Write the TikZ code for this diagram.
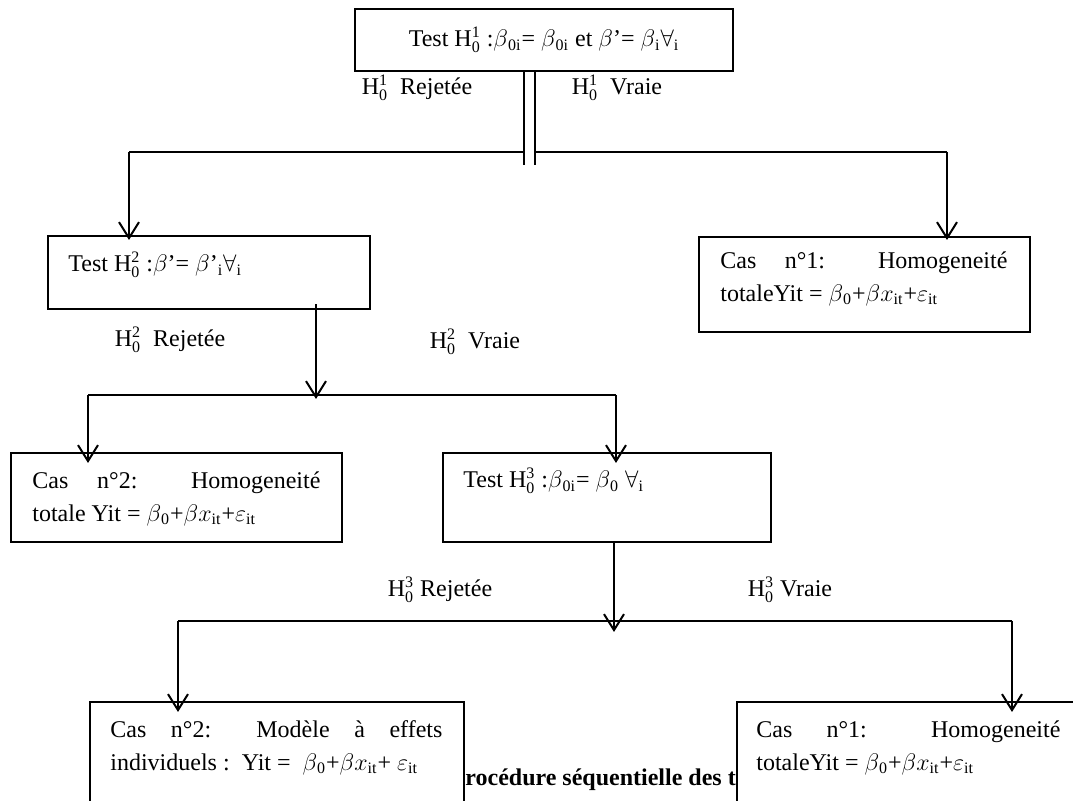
\documentclass[tikz,border=0pt]{standalone}
\usepackage{fontspec}
\usepackage{amsmath}
\setmainfont{Liberation Serif}
\usetikzlibrary{
  arrows.meta,
  positioning
}
\newcommand{\Hz}[1]{H$^{\text{#1}}_{\text{0}}$}
\newcommand{\lo}[1]{\textsubscript{#1}}

\tikzset{
  box/.style={draw, line width=1.1pt, fill=white, anchor=north west, inner sep=0pt},
  boxtext/.style={anchor=north west, inner sep=0pt, align=justify,
    font=\fontsize{12}{16.5}\selectfont},
  lbl/.style={inner sep=0pt, font=\fontsize{12}{14}\selectfont},
  link/.style={line width=0.6pt},
  arrow/.style={line width=1pt, -{Straight Barb[length=8pt,width=10pt,line width=1pt]}}
}

\begin{document}
\begin{tikzpicture}[x=0.5pt, y=-0.5pt]
  \clip (0,0) rectangle (1073,801);
  % Boxes (pixel grid, y downwards)
  \node[box, minimum width=189pt, minimum height=31pt,
        font=\fontsize{12}{14}\selectfont] (testA) at (354,8)
    {\raisebox{-2pt}{Test \Hz{1} :$\beta$\lo{0i}= $\beta$\lo{0i} et $\beta$’= $\beta$\lo{i}$\forall$\lo{i}}};
  \node[box, minimum width=161pt, minimum height=36.5pt] (testB) at (47,235) {};
  \node[box, minimum width=165.5pt, minimum height=47.5pt] (caseA) at (698,236) {};
  \node[box, minimum width=165.5pt, minimum height=44.5pt] (caseB) at (10,452) {};
  \node[box, minimum width=164pt, minimum height=44.5pt] (testC) at (442,452) {};

  % Texts inside the boxes
  \node[boxtext] (testBtxt) at (68,252) {Test \Hz{2} :$\beta$’= $\beta$’\lo{i}$\forall$\lo{i}};
  \node[boxtext, text width=143.5pt] (caseAtxt) at (720,251)
    {Cas n°1: Homogeneité\linebreak totaleYit = $\beta$\lo{0}+$\beta x$\lo{it}+$\varepsilon$\lo{it}};
  \node[boxtext, text width=144pt] (caseBtxt) at (32,471)
    {Cas n°2: Homogeneité\linebreak totale Yit = $\beta$\lo{0}+$\beta x$\lo{it}+$\varepsilon$\lo{it}};
  \node[boxtext] (testCtxt) at (463,468) {Test \Hz{3} :$\beta$\lo{0i}= $\beta$\lo{0} $\forall$\lo{i}};

  % Branch labels
  \node[lbl] (rejA) at (417,88) {\Hz{1}\ \ Rejetée};
  \node[lbl] (vraiA) at (617,88) {\Hz{1}\ \ Vraie};
  \node[lbl] (rejB) at (170,340) {\Hz{2}\ \ Rejetée};
  \node[lbl] (vraiB) at (475,342) {\Hz{2}\ \ Vraie};
  \node[lbl] (rejC) at (440,590) {\Hz{3}\ Rejetée};
  \node[lbl] (vraiC) at (790,590) {\Hz{3}\ Vraie};

  % Caption, partly hidden by the last boxes
  \node[lbl, anchor=west, font=\fontsize{12}{14}\selectfont\bfseries] (caption) at (465,780)
    {rocédure séquentielle des t};

  \node[box, minimum width=187pt, minimum height=75pt] (caseC) at (89,701) {};
  \node[box, minimum width=190pt, minimum height=75pt] (caseD) at (736,701) {};
  \node[boxtext, text width=166pt] (caseCtxt) at (110,720)
    {Cas n°2: Modèle à effets\linebreak
     \mbox{individuels :\ \ Yit = \ $\beta$\lo{0}+$\beta x$\lo{it}+ $\varepsilon$\lo{it}}};
  \node[boxtext, text width=152pt] (caseDtxt) at (756,720)
    {Cas n°1: Homogeneité\linebreak totaleYit = $\beta$\lo{0}+$\beta x$\lo{it}+$\varepsilon$\lo{it}};

  % Junction points
  \coordinate (dlA) at (524,165);
  \coordinate (drA) at (535,165);
  \coordinate (hAl) at (129,152);
  \coordinate (hAr) at (947,152);
  \coordinate (hBl) at (88,395);
  \coordinate (hBm) at (316,395);
  \coordinate (hBr) at (616,395);
  \coordinate (hCl) at (178,621);
  \coordinate (hCm) at (614,621);
  \coordinate (hCr) at (1012,621);

  % First test
  \draw[link] (dlA |- testA.south) -- (dlA);
  \draw[link] (drA |- testA.south) -- (drA);
  \draw[link] (hAl) -- (dlA |- hAl);
  \draw[link] (drA |- hAl) -- (hAr);
  \draw[arrow, shorten >=-2.5pt] (hAl) -- (hAl |- testB.north);
  \draw[arrow, shorten >=-2pt] (hAr) -- (hAr |- caseA.north);

  % Second test
  \draw[arrow, shorten <=-3pt, shorten >=-2pt] (hBm |- testB.south) -- (hBm);
  \draw[link] (hBl) -- (hBr);
  \draw[arrow, shorten >=-5.5pt] (hBl) -- (hBl |- caseB.north);
  \draw[arrow, shorten >=-5.5pt] (hBr) -- (hBr |- testC.north);

  % Third test
  \draw[arrow, shorten >=-5.5pt] (hCm |- testC.south) -- (hCm);
  \draw[link] (hCl) -- (hCr);
  \draw[arrow, shorten >=-5.5pt] (hCl) -- (hCl |- caseC.north);
  \draw[arrow, shorten >=-5.5pt] (hCr) -- (hCr |- caseD.north);
\end{tikzpicture}
\end{document}
